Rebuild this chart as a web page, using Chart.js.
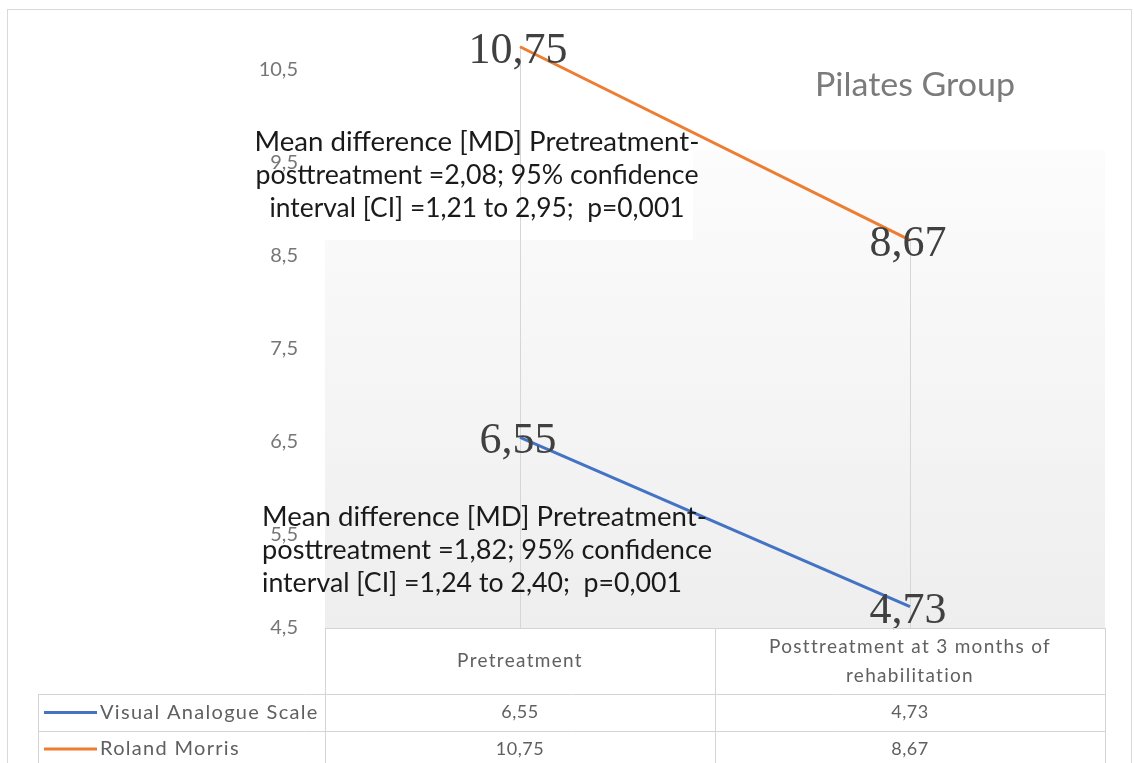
<!DOCTYPE html>
<html><head><meta charset="utf-8">
<script src="https://cdn.jsdelivr.net/npm/chart.js@4.4.1/dist/chart.umd.min.js"></script>
<style>html,body{margin:0;padding:0;background:#fff;overflow:hidden}#wrap{width:1134px;height:763px;position:relative}</style>
</head><body><div id="wrap"><canvas id="c" width="1134" height="763"></canvas></div>
<script>
// ---- data ----
const categories = ['Pretreatment', 'Posttreatment at 3 months of rehabilitation'];
const categoryHeaderLines = [['Pretreatment'], ['Posttreatment at 3 months of', 'rehabilitation']];
const seriesNames = ['Visual Analogue Scale', 'Roland Morris'];
const vasValues = [6.55, 4.73];
const rolandMorrisValues = [10.75, 8.67];
const yTickValues = [4.5, 5.5, 6.5, 7.5, 8.5, 9.5, 10.5];
const yTickLabels = ['4,5', '5,5', '6,5', '7,5', '8,5', '9,5', '10,5'];
const yMin = 4.5, yMax = 11;
const chartTitle = 'Pilates Group';
const rmNoteLines = ['Mean difference [MD] Pretreatment-', 'posttreatment =2,08; 95% confidence', 'interval [CI] =1,21 to 2,95;  p=0,001'];
const vasNoteLines = ['Mean difference [MD] Pretreatment-', 'posttreatment =1,82; 95% confidence', 'interval [CI] =1,24 to 2,40;  p=0,001'];

// ---- styles ----
const W = 1134, H = 763;
const BLUE = '#4472C4', ORANGE = '#ED7D31';
const seriesColors = [BLUE, ORANGE];
const GRID = '#d6d6d6';
const fmt = v => v.toFixed(2).replace('.', ',');

function drawNote(ctx, lines, x, baselines, align, widths) {
  ctx.save();
  ctx.font = '27px Lato';
  ctx.fillStyle = '#1a1a1a';
  ctx.textBaseline = 'alphabetic';
  ctx.textAlign = align;
  lines.forEach((t, i) => {
    const sx = widths[i] / ctx.measureText(t).width;
    ctx.save();
    ctx.translate(x, 0);
    ctx.scale(sx, 1);
    ctx.fillText(t, 0, baselines[i]);
    ctx.restore();
  });
  ctx.restore();
}

const chartPlugin = {
  id: 'excelLook',
  beforeDraw(chart) {
    const { ctx, chartArea: a } = chart;
    ctx.save();
    ctx.fillStyle = '#fff';
    ctx.fillRect(0, 0, W, H);
    ctx.strokeStyle = '#d9d9d9';
    ctx.lineWidth = 1;
    ctx.strokeRect(7.5, 9.5, 1124, 800);
    const g = ctx.createLinearGradient(0, 150, 0, a.bottom);
    g.addColorStop(0, '#fcfcfc');
    g.addColorStop(1, '#eeeeee');
    ctx.fillStyle = g;
    ctx.fillRect(a.left, 150, a.right - a.left, a.bottom - 150);
    ctx.fillStyle = '#fff';
    ctx.fillRect(a.left, 118, 693 - a.left, 240 - 118);
    ctx.restore();
  },
  beforeDatasetsDraw(chart) {
    const { ctx, chartArea: a, scales: { x, y } } = chart;
    ctx.save();
    ctx.strokeStyle = GRID;
    ctx.lineWidth = 1;
    categories.forEach((c, i) => {
      const top = Math.max(vasValues[i], rolandMorrisValues[i]);
      const px = Math.round(x.getPixelForValue(i)) + 0.5;
      ctx.beginPath();
      ctx.moveTo(px, y.getPixelForValue(top));
      ctx.lineTo(px, a.bottom);
      ctx.stroke();
    });
    ctx.restore();
  },
  afterDatasetsDraw(chart) {
    const { ctx, chartArea: a, scales: { x, y } } = chart;
    ctx.save();
    // data labels
    ctx.font = '44px "Liberation Serif"';
    ctx.fillStyle = '#404040';
    ctx.textAlign = 'center';
    ctx.textBaseline = 'alphabetic';
    chart.data.datasets.forEach((ds, di) => {
      chart.getDatasetMeta(di).data.forEach((pt, j) => {
        ctx.fillText(fmt(ds.data[j]), pt.x - 2, pt.y + 16);
      });
    });
    // title
    ctx.font = '32px Lato';
    ctx.fillStyle = '#7b7b7b';
    const tw = ctx.measureText(chartTitle).width;
    ctx.save();
    ctx.translate(915, 0);
    ctx.scale(200 / tw, 1);
    ctx.fillText(chartTitle, 0, 96);
    ctx.restore();
    ctx.restore();

    // notes
    drawNote(ctx, rmNoteLines, 477, [151, 184, 217], 'center', [445, 443, 415]);
    drawNote(ctx, vasNoteLines, 262, [526, 559, 592], 'left', [445, 450, 420]);

    // data table
    ctx.save();
    const tTop = a.bottom, hBottom = 694, r1Bottom = 731, legendLeft = 38;
    const colMid = Math.round((x.getPixelForValue(0) + x.getPixelForValue(1)) / 2);
    ctx.strokeStyle = '#d4d4d4';
    ctx.lineWidth = 1;
    const hl = (x0, x1, yy) => { ctx.beginPath(); ctx.moveTo(x0, yy + 0.5); ctx.lineTo(x1, yy + 0.5); ctx.stroke(); };
    const vl = (xx, y0, y1) => { ctx.beginPath(); ctx.moveTo(xx + 0.5, y0); ctx.lineTo(xx + 0.5, y1); ctx.stroke(); };
    hl(a.left, a.right, Math.round(tTop));
    hl(legendLeft, a.right, hBottom);
    hl(legendLeft, a.right, r1Bottom);
    vl(legendLeft, hBottom, H);
    vl(Math.round(a.left), tTop, H);
    vl(colMid, tTop, H);
    vl(Math.round(a.right), tTop, H);

    ctx.font = '19px Lato';
    ctx.letterSpacing = '1.3px';
    ctx.fillStyle = '#606060';
    ctx.textAlign = 'center';
    ctx.textBaseline = 'middle';
    categoryHeaderLines.forEach((lines, i) => {
      const cx = x.getPixelForValue(i);
      const mid = (tTop + hBottom) / 2;
      const lh = 29;
      lines.forEach((t, k) => ctx.fillText(t, cx, mid + (k - (lines.length - 1) / 2) * lh));
    });
    const rows = [vasValues, rolandMorrisValues];
    const rowCenters = [(hBottom + r1Bottom) / 2, r1Bottom + 18];
    rows.forEach((vals, r) => {
      const cy = rowCenters[r];
      ctx.strokeStyle = seriesColors[r];
      ctx.lineWidth = 3;
      ctx.beginPath(); ctx.moveTo(44, cy); ctx.lineTo(97, cy); ctx.stroke();
      ctx.font = '20px Lato';
      ctx.letterSpacing = '1.3px';
      ctx.textAlign = 'left';
      ctx.fillText(seriesNames[r], 100, cy);
      ctx.font = '18px Lato';
      ctx.letterSpacing = '0.5px';
      ctx.textAlign = 'center';
      vals.forEach((v, i) => ctx.fillText(fmt(v), x.getPixelForValue(i), cy));
    });
    ctx.restore();
  }
};

new Chart(document.getElementById('c'), {
  type: 'line',
  data: {
    labels: categories,
    datasets: [
      { label: seriesNames[0], data: vasValues, borderColor: BLUE, backgroundColor: BLUE, borderWidth: 3, pointRadius: 0, tension: 0, fill: false },
      { label: seriesNames[1], data: rolandMorrisValues, borderColor: ORANGE, backgroundColor: ORANGE, borderWidth: 3, pointRadius: 0, tension: 0, fill: false }
    ]
  },
  options: {
    responsive: false,
    animation: false,
    devicePixelRatio: 1,
    layout: { padding: { left: 0, right: 29, top: 23.5, bottom: 135 } },
    plugins: { legend: { display: false }, tooltip: { enabled: false }, title: { display: false } },
    scales: {
      x: { type: 'category', offset: true, display: false },
      y: {
        min: yMin, max: yMax,
        afterBuildTicks(s) { s.ticks = yTickValues.map(v => ({ value: v })); },
        afterFit(s) { s.width = 325; s.paddingTop = 0; s.paddingBottom = 0; },
        grid: { display: false, drawTicks: false },
        border: { display: false },
        ticks: { padding: 27, color: '#767676', font: { family: 'Lato', size: 20 }, callback: (v, i) => yTickLabels[i] }
      }
    }
  },
  plugins: [chartPlugin]
});
</script>
</body></html>
